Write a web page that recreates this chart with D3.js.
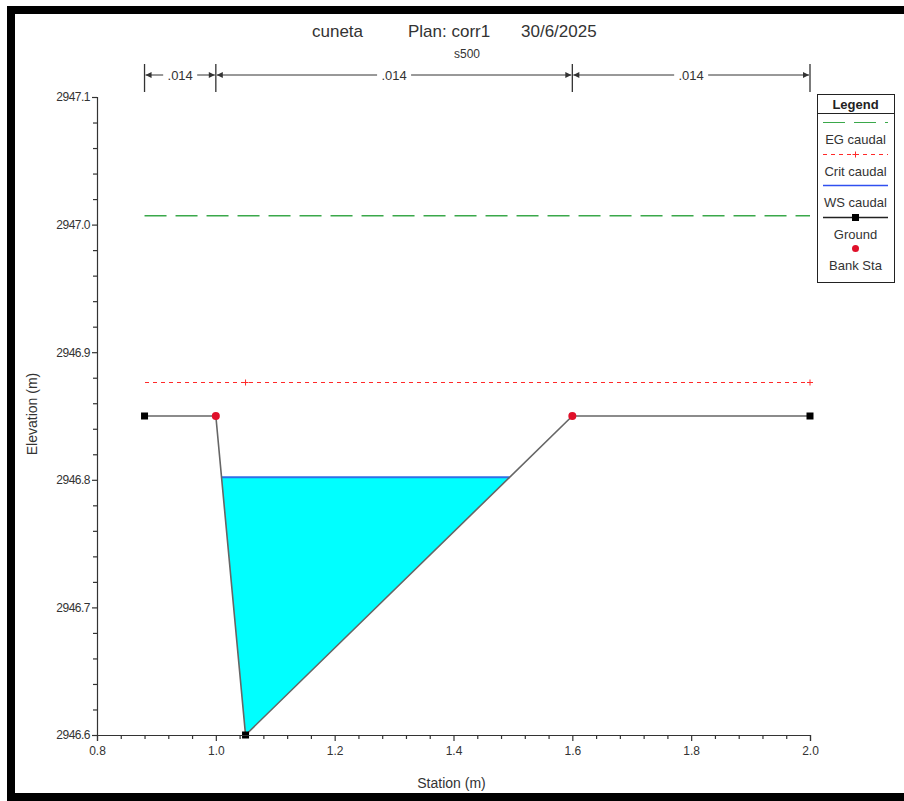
<!DOCTYPE html>
<html>
<head>
<meta charset="utf-8">
<script src="https://cdn.jsdelivr.net/npm/d3@7"></script>
<style>
  body { margin: 0; background: #fff; overflow: hidden; }
  svg { display: block; font-family: "Liberation Sans", Arial, sans-serif; }
</style>
</head>
<body>
<svg id="chart" width="904" height="801"></svg>
<script>
// cross section data
var groundStation = [0.88, 1.0, 1.05, 1.6, 2.0];
var groundElev = [2946.85, 2946.85, 2946.6, 2946.85, 2946.85];
var groundMarkers = [0.88, 1.05, 2.0];
var bankStation = [1.0, 1.6];
var wsElev = 2946.802;
var egElev = 2947.007;
var critElev = 2946.877;
var critMarks = [1.05, 2.0];
var nBreaks = [0.88, 1.0, 1.6, 2.0];
var nValues = [".014", ".014", ".014"];
var xTicks = [0.8, 1.0, 1.2, 1.4, 1.6, 1.8, 2.0];
var yTicks = [2946.6, 2946.7, 2946.8, 2946.9, 2947.0, 2947.1];
var titleParts = ["cuneta", "Plan: corr1", "30/6/2025"];
var legendItems = ["EG caudal", "Crit caudal", "WS caudal", "Ground", "Bank Sta"];

var svg = d3.select("#chart");
var margin = {top: 97, right: 94, bottom: 66, left: 97};
var W = 904, H = 801;

// frame: left, top and bottom only (right side is cut off)
svg.append("path").attr("d", "M910,10H11V797H910")
  .attr("fill", "none").attr("stroke", "#000").attr("stroke-width", 8);

var x = d3.scaleLinear().domain([0.8, 2.0]).range([margin.left, W - margin.right]);
var y = d3.scaleLinear().domain([2946.6, 2947.1]).range([H - margin.bottom, margin.top]);

var ground = groundStation.map((s, i) => ({s: s, z: groundElev[i]}));

// water area: where the ws crosses the ground
function crossings(level) {
  var pts = [];
  for (var i = 0; i < ground.length - 1; i++) {
    var a = ground[i], b = ground[i + 1];
    if ((a.z - level) * (b.z - level) < 0) {
      var t = (level - a.z) / (b.z - a.z);
      pts.push({s: a.s + t * (b.s - a.s), z: level, i: i});
    }
  }
  return pts;
}
var cr = crossings(wsElev);
var water = [cr[0]];
for (var i = cr[0].i + 1; i <= cr[1].i; i++) water.push(ground[i]);
water.push(cr[1]);

var line = d3.line().x(d => x(d.s)).y(d => y(d.z));

svg.append("path").attr("d", line(water) + "Z")
  .attr("fill", "#00ffff").attr("stroke", "none");
svg.append("line")
  .attr("x1", x(cr[0].s)).attr("x2", x(cr[1].s))
  .attr("y1", y(wsElev)).attr("y2", y(wsElev))
  .attr("stroke", "#2f6fe6").attr("stroke-width", 2);

// EG
svg.append("line")
  .attr("x1", x(groundStation[0])).attr("x2", x(2.0))
  .attr("y1", y(egElev)).attr("y2", y(egElev))
  .attr("stroke", "#3aa84a").attr("stroke-width", 1.5).attr("stroke-dasharray", "22,9");

// Crit
svg.append("line")
  .attr("x1", x(groundStation[0])).attr("x2", x(2.0))
  .attr("y1", Math.round(y(critElev)) + 0.5).attr("y2", Math.round(y(critElev)) + 0.5)
  .attr("stroke", "#ff2a2a").attr("stroke-width", 1).attr("stroke-dasharray", "4,4")
  .style("shape-rendering", "crispEdges");
critMarks.forEach(function(s) {
  var cy = Math.round(y(critElev)) + 0.5;
  svg.append("path")
    .attr("d", "M" + (x(s) - 3) + "," + cy + "h6M" + x(s) + "," + (cy - 3) + "v6")
    .attr("stroke", "#ff2a2a").attr("stroke-width", 1);
});

// Ground
svg.append("path").attr("d", line(ground))
  .attr("fill", "none").attr("stroke", "#666").attr("stroke-width", 1.6);
svg.selectAll(".gm").data(groundMarkers).enter().append("rect")
  .attr("x", d => x(d) - 3.5).attr("y", d => y(groundElev[groundStation.indexOf(d)]) - 3.5)
  .attr("width", 7).attr("height", 7).attr("fill", "#000");
svg.selectAll(".bank").data(bankStation).enter().append("circle")
  .attr("cx", d => x(d)).attr("cy", d => y(groundElev[groundStation.indexOf(d)]))
  .attr("r", 4).attr("fill", "#e0102a");

// axes
var xMinor = d3.range(0.84, 2.0, 0.04).filter(v => Math.abs(v * 5 - Math.round(v * 5)) > 0.01);
var yMinor = d3.range(2946.62, 2947.1, 0.02).filter(v => Math.abs(v * 10 - Math.round(v * 10)) > 0.01);

var xAxis = svg.append("g").attr("transform", "translate(0," + y.range()[0] + ")")
  .call(d3.axisBottom(x).tickValues(xTicks).tickFormat(d3.format(".1f")).tickSize(6).tickPadding(5));
svg.append("g").attr("class", "minor").attr("transform", "translate(0," + y.range()[0] + ")")
  .call(d3.axisBottom(x).tickValues(xMinor).tickFormat(() => "").tickSize(4))
  .select(".domain").remove();
var yAxis = svg.append("g").attr("transform", "translate(" + x.range()[0] + ",0)")
  .call(d3.axisLeft(y).tickValues(yTicks).tickFormat(d3.format(".1f")).tickSize(5).tickPadding(2));
svg.append("g").attr("class", "minor").attr("transform", "translate(" + x.range()[0] + ",0)")
  .call(d3.axisLeft(y).tickValues(yMinor).tickFormat(() => "").tickSize(4))
  .select(".domain").remove();
svg.selectAll(".domain, .tick line").attr("stroke", "#333").attr("stroke-width", 1.2);
svg.selectAll(".tick text").attr("fill", "#333").attr("font-size", 12);
yAxis.selectAll(".tick text").style("letter-spacing", "-0.5px");

svg.append("text").attr("x", x(1.4) - 2).attr("y", 788).attr("text-anchor", "middle")
  .attr("font-size", 14).attr("fill", "#333").text("Station (m)");
svg.append("text").attr("transform", "translate(37,414) rotate(-90)")
  .attr("text-anchor", "middle").attr("font-size", 14).attr("fill", "#333").text("Elevation (m)");

// title
var titleX = [312, 408, 521];
titleParts.forEach(function(t, i) {
  svg.append("text").attr("x", titleX[i]).attr("y", 37)
    .attr("font-size", 17).attr("fill", "#333").text(t);
});
svg.append("text").attr("x", 467).attr("y", 58).attr("text-anchor", "middle")
  .attr("font-size", 12).attr("fill", "#333").text("s500");

// n values bar
var nY = 75;
var nG = svg.append("g").attr("stroke", "#333").attr("fill", "#333");
nBreaks.forEach(function(s) {
  nG.append("line").attr("x1", x(s)).attr("x2", x(s)).attr("y1", nY - 11).attr("y2", nY + 17).attr("stroke-width", 1.3);
});
nValues.forEach(function(v, i) {
  var a = x(nBreaks[i]), b = x(nBreaks[i + 1]), m = (a + b) / 2;
  var half = 17;
  nG.append("line").attr("x1", a + 1).attr("x2", m - half).attr("y1", nY).attr("y2", nY);
  nG.append("line").attr("x1", m + half).attr("x2", b - 1).attr("y1", nY).attr("y2", nY);
  nG.append("path").attr("d", "M" + (a + 1) + "," + nY + "l6,-3v6z").attr("stroke", "none");
  nG.append("path").attr("d", "M" + (b - 1) + "," + nY + "l-6,-3v6z").attr("stroke", "none");
  nG.append("text").attr("x", m).attr("y", nY + 5).attr("text-anchor", "middle")
    .attr("stroke", "none").attr("font-size", 13).text(v);
});

// legend
var lg = svg.append("g").attr("transform", "translate(817,94)");
lg.append("rect").attr("x", 0.5).attr("y", 0.5).attr("width", 77).attr("height", 188)
  .attr("fill", "#fff").attr("stroke", "#222");
lg.append("line").attr("x1", 0).attr("x2", 77).attr("y1", 19.5).attr("y2", 19.5).attr("stroke", "#222");
lg.append("text").attr("x", 38.5).attr("y", 14.5).attr("text-anchor", "middle")
  .attr("font-size", 13).attr("font-weight", "bold").attr("fill", "#222").text("Legend");
legendItems.forEach(function(name, i) {
  var ly = Math.round(28 + i * 31.5) + 0.5;
  if (name === "EG caudal") {
    lg.append("line").attr("x1", 6).attr("x2", 71).attr("y1", ly).attr("y2", ly)
      .attr("stroke", "#3aa84a").attr("stroke-width", 1).attr("stroke-dasharray", "22,9")
      .style("shape-rendering", "crispEdges");
  } else if (name === "Crit caudal") {
    lg.append("line").attr("x1", 6).attr("x2", 71).attr("y1", ly).attr("y2", ly)
      .attr("stroke", "#ff2a2a").attr("stroke-dasharray", "4,4").style("shape-rendering", "crispEdges");
    lg.append("path").attr("d", "M38.5," + (ly - 3) + "v6M35.5," + ly + "h6").attr("stroke", "#ff2a2a");
  } else if (name === "WS caudal") {
    lg.append("line").attr("x1", 6).attr("x2", 71).attr("y1", ly).attr("y2", ly)
      .attr("stroke", "#3050f0").attr("stroke-width", 1.5);
  } else if (name === "Ground") {
    lg.append("line").attr("x1", 6).attr("x2", 71).attr("y1", ly).attr("y2", ly)
      .attr("stroke", "#222").attr("stroke-width", 1.4);
    lg.append("rect").attr("x", 35).attr("y", ly - 3.5).attr("width", 7).attr("height", 7).attr("fill", "#000");
  } else {
    lg.append("circle").attr("cx", 38.5).attr("cy", ly).attr("r", 3.5).attr("fill", "#e0102a");
  }
  lg.append("text").attr("x", 38.5).attr("y", ly + 21).attr("text-anchor", "middle")
    .attr("font-size", 13).attr("fill", "#333").text(name);
});
</script>
</body>
</html>
